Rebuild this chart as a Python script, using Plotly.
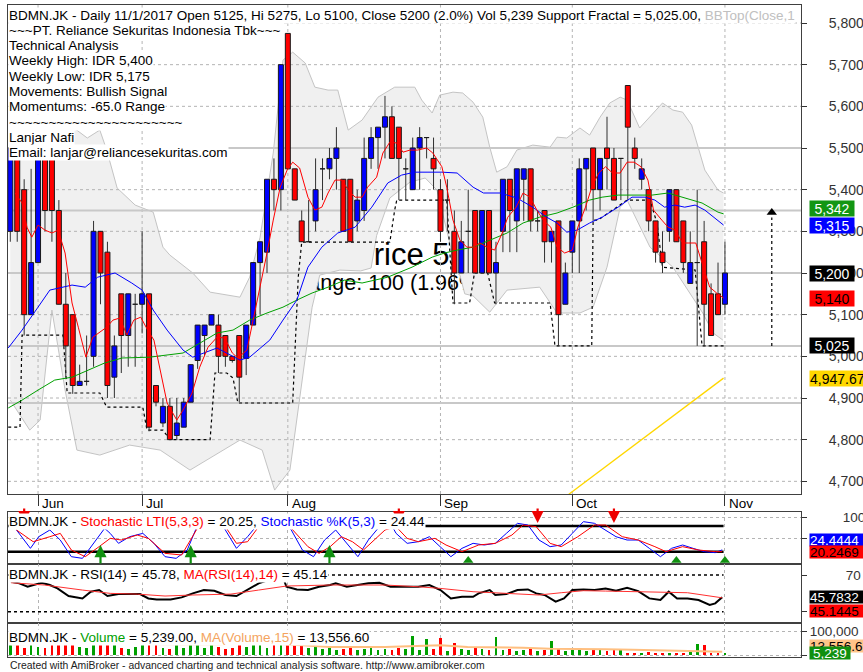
import plotly.graph_objects as go

FONT = "Liberation Sans, Arial, sans-serif"

# ---------------- data (bar 0 = 26 May 2017, bar 103 = 1 Nov 2017) ----------------
month_starts = [4, 19, 40, 62, 81, 103]
month_labels = ["Jun", "Jul", "Aug", "Sep", "Oct", "Nov"]

opens = [5300, 5500, 5400, 5100, 5225, 5500, 5475, 5350, 5125, 5100,
         4930, 4940, 5000, 5300, 5250, 4950, 5150, 5050, 5125, 5125,
         5150, 4930, 4840, 4880, 4810, 4830, 4890, 4990, 5050, 5075,
         5075, 5050, 5000, 5050, 4995, 5075, 5225, 5250, 5425, 5400,
         5775, 5450, 5325, 5275, 5325, 5450, 5450, 5475, 5425, 5425,
         5325, 5350, 5475, 5525, 5550, 5575, 5550, 5450, 5400, 5500,
         5525, 5475, 5400, 5375, 5300, 5200, 5300, 5350, 5200, 5350,
         5200, 5300, 5425, 5325, 5425, 5450, 5325, 5350, 5275, 5325,
         5125, 5250, 5325, 5450, 5500, 5400, 5500, 5475, 5475, 5650,
         5500, 5425, 5400, 5325, 5250, 5300, 5400, 5325, 5175, 5225,
         5275, 5150, 5150, 5125]
highs = [5525, 5525, 5425, 5450, 5525, 5525, 5500, 5375, 5200, 5100,
         4980, 5050, 5325, 5300, 5275, 5050, 5150, 5150, 5150, 5300,
         5150, 4930, 4900, 4900, 4900, 4900, 4980, 5075, 5075, 5100,
         5100, 5050, 5000, 5050, 5075, 5225, 5275, 5425, 5475, 5700,
         5775, 5450, 5350, 5375, 5475, 5475, 5500, 5550, 5425, 5425,
         5400, 5525, 5550, 5550, 5625, 5600, 5550, 5475, 5525, 5550,
         5525, 5525, 5425, 5425, 5350, 5325, 5400, 5350, 5350, 5350,
         5275, 5425, 5425, 5450, 5450, 5450, 5350, 5350, 5300, 5325,
         5225, 5325, 5475, 5475, 5500, 5475, 5575, 5500, 5475, 5650,
         5525, 5475, 5400, 5325, 5300, 5400, 5400, 5325, 5300, 5400,
         5325, 5175, 5225, 5275]
lows = [5275, 5275, 5050, 5100, 5225, 5300, 5275, 5125, 4950, 4910,
        4930, 4930, 4975, 5125, 4900, 4900, 4960, 4975, 4975, 5055,
        4820, 4880, 4830, 4800, 4800, 4830, 4890, 4970, 5000, 5075,
        4960, 4975, 4985, 4890, 4955, 5075, 5100, 5200, 5350, 5350,
        5450, 5375, 5275, 5275, 5300, 5375, 5425, 5400, 5300, 5275,
        5300, 5325, 5450, 5450, 5475, 5475, 5375, 5375, 5400, 5400,
        5475, 5400, 5275, 5300, 5125, 5200, 5200, 5200, 5200, 5200,
        5125, 5250, 5250, 5250, 5325, 5300, 5300, 5225, 5225, 5025,
        5125, 5200, 5200, 5350, 5325, 5350, 5400, 5375, 5375, 5375,
        5450, 5400, 5300, 5225, 5200, 5275, 5275, 5200, 5175, 5025,
        5025, 5050, 5100, 5100]
closes = [5500, 5300, 5100, 5225, 5500, 5350, 5350, 5125, 5025, 4930,
          4940, 4940, 5300, 5200, 4930, 5025, 5050, 5150, 5125, 5150,
          4830, 4890, 4880, 4800, 4840, 4890, 4980, 5075, 5075, 5100,
          5000, 5000, 4990, 4950, 5075, 5225, 5275, 5425, 5400, 5700,
          5450, 5375, 5275, 5275, 5400, 5450, 5475, 5500, 5300, 5275,
          5375, 5475, 5525, 5550, 5575, 5475, 5475, 5450, 5500, 5525,
          5525, 5450, 5300, 5375, 5200, 5275, 5300, 5200, 5350, 5200,
          5225, 5425, 5350, 5450, 5450, 5325, 5325, 5275, 5300, 5100,
          5200, 5325, 5450, 5475, 5400, 5475, 5475, 5375, 5475, 5550,
          5475, 5450, 5325, 5250, 5225, 5400, 5275, 5225, 5225, 5225,
          5125, 5050, 5100, 5200]
volumes = [45000, 40000, 30000, 80000, 35000, 30000, 45000, 55000, 50000, 60000,
           35000, 30000, 80000, 55000, 65000, 40000, 30000, 25000, 35000, 75000,
           70000, 45000, 30000, 25000, 40000, 30000, 75000, 45000, 30000, 40000,
           35000, 25000, 30000, 80000, 35000, 75000, 45000, 30000, 55000, 85000,
           50000, 45000, 40000, 30000, 35000, 25000, 30000, 20000, 25000, 30000,
           20000, 25000, 30000, 20000, 25000, 20000, 30000, 25000, 80000, 20000,
           65000, 25000, 70000, 15000, 50000, 25000, 20000, 30000, 25000, 20000,
           75000, 20000, 25000, 15000, 20000, 25000, 15000, 20000, 60000, 25000,
           15000, 20000, 30000, 15000, 25000, 20000, 15000, 25000, 20000, 8000,
           10000, 8000, 12000, 8000, 10000, 6000, 8000, 10000, 15000, 45000,
           40000, 8000, 6000, 5239]

# indicator lines (bar position, value)
ma_fast_idx = [0.7, 1.7, 2.4, 3.1, 4.0, 5.0, 6.0, 6.9, 7.9, 8.9, 9.8, 10.9, 11.9, 12.9, 13.9,
               14.8, 15.8, 16.8, 17.8, 18.8, 19.8, 20.7, 21.1, 22.6, 24.0, 24.9, 26.2, 27.3,
               28.5, 29.8, 30.9, 32.0, 32.8, 34.1, 35.0, 36.0, 37.0, 37.9, 38.9, 39.9, 40.7,
               41.7, 42.9, 43.9, 44.9, 45.8, 46.8, 47.8, 48.7, 49.7, 50.7, 51.5, 52.8, 53.7,
               54.7, 55.7, 56.6, 57.6, 58.7, 60.0, 60.9, 62.2, 62.9, 63.8, 64.8, 65.8, 66.7,
               67.7, 68.7, 69.8, 70.9, 71.7, 72.9, 73.9, 74.9, 75.9, 76.8, 77.9, 78.8, 79.9,
               81.0, 81.8, 82.9, 83.8, 84.8, 85.8, 86.8, 87.9, 88.9, 89.9, 90.9, 91.9, 92.7,
               93.9, 94.8, 95.8, 96.9, 97.8, 98.8, 99.7, 100.8, 101.8, 102.8]
ma_fast = [5392, 5368, 5310, 5286, 5315, 5303, 5296, 5303, 5248, 5128, 5070, 4998, 5046, 5058,
           5070, 5087, 5092, 5051, 5087, 5094, 5063, 5039, 5008, 4888, 4847, 4871, 4912, 4974,
           5022, 5046, 5044, 5008, 4996, 5015, 5087, 5166, 5248, 5327, 5406, 5447, 5466, 5452,
           5382, 5351, 5358, 5392, 5423, 5423, 5399, 5382, 5382, 5406, 5430, 5488, 5514, 5512,
           5490, 5495, 5495, 5500, 5488, 5455, 5406, 5327, 5279, 5262, 5262, 5272, 5262, 5255,
           5296, 5334, 5358, 5392, 5382, 5351, 5327, 5310, 5262, 5248, 5255, 5310, 5358, 5406,
           5440, 5455, 5440, 5440, 5466, 5466, 5455, 5423, 5351, 5327, 5310, 5303, 5272, 5272,
           5272, 5224, 5166, 5152, 5140]
ma_mid_idx = [-0.3, 1.7, 4.0, 5.7, 8.9, 10.8, 12.6, 15.1, 17.5, 19.0, 20.6, 22.6, 24.9, 26.3,
              29.8, 31.2, 33.1, 34.5, 37.4, 39.3, 41.3, 42.9, 44.9, 47.2, 49.7, 52.1, 54.4,
              56.4, 58.3, 60.2, 62.2, 64.4, 66.7, 68.2, 70.6, 73.0, 75.3, 77.3, 78.8, 80.2,
              81.7, 83.5, 85.3, 87.6, 89.6, 91.5, 92.9, 94.3, 95.8, 97.2, 98.7, 100.1, 102.0, 102.8]
ma_mid = [5020, 5063, 5118, 5159, 5171, 5166, 5190, 5200, 5176, 5159, 5111, 5063, 5015, 4998,
          5020, 5008, 4991, 4998, 5039, 5087, 5135, 5214, 5262, 5296, 5310, 5358, 5416, 5435,
          5442, 5442, 5442, 5440, 5406, 5392, 5392, 5380, 5358, 5334, 5320, 5298, 5303, 5320,
          5334, 5358, 5382, 5382, 5375, 5358, 5363, 5358, 5363, 5351, 5327, 5315]
ma_slow_idx = [-0.3, 1.7, 4.0, 6.4, 8.9, 11.2, 13.6, 16.1, 20.1, 24.9, 27.3, 29.8, 32.1, 34.5,
               37.0, 39.3, 41.3, 43.5, 45.8, 48.2, 50.7, 54.4, 57.9, 60.8, 62.6, 64.4, 66.7,
               69.1, 71.6, 73.9, 76.3, 78.8, 81.1, 83.5, 85.3, 87.6, 90.0, 92.5, 94.8, 97.2,
               99.7, 102.0, 102.8]
ma_slow = [4876, 4895, 4919, 4943, 4950, 4967, 4984, 4996, 4998, 5008, 5032, 5056, 5063, 5087,
           5104, 5118, 5135, 5152, 5166, 5183, 5176, 5190, 5214, 5238, 5248, 5255, 5262, 5279,
           5296, 5320, 5334, 5344, 5358, 5375, 5382, 5387, 5387, 5387, 5392, 5380, 5368, 5346, 5342]
bb_top_idx = [0.0, 2.8, 5.7, 8.6, 11.1, 12.9, 13.9, 15.4, 18.0, 20.6, 22.0, 23.0, 26.3, 28.8,
              33.1, 34.5, 36.0, 37.9, 39.3, 40.7, 42.5, 43.9, 45.8, 47.2, 48.7, 50.7, 53.0,
              55.4, 58.3, 59.3, 60.8, 61.9, 63.8, 65.2, 66.7, 68.1, 69.1, 70.1, 71.6, 73.0,
              75.3, 77.8, 78.8, 80.2, 82.1, 83.5, 85.0, 86.4, 87.9, 88.9, 90.7, 92.6, 94.0,
              95.5, 96.9, 98.2, 100.1, 102.0, 102.8]
bb_top = [5555, 5567, 5572, 5555, 5524, 5543, 5495, 5404, 5363, 5346, 5262, 5243, 5200, 5154,
          5142, 5190, 5286, 5488, 5711, 5730, 5704, 5646, 5639, 5639, 5543, 5567, 5622, 5646,
          5646, 5615, 5584, 5627, 5634, 5632, 5610, 5574, 5502, 5442, 5455, 5495, 5507, 5502,
          5526, 5524, 5548, 5531, 5574, 5608, 5622, 5615, 5548, 5584, 5608, 5591, 5586, 5555,
          5447, 5399, 5392]
bb_bot_idx = [0.0, 2.8, 4.3, 6.0, 7.9, 9.6, 12.9, 17.2, 21.6, 25.9, 29.5, 33.1, 36.3, 38.1,
              40.3, 41.7, 43.5, 44.6, 47.5, 50.5, 52.0, 52.8, 54.7, 57.6, 59.8, 61.5, 63.4,
              64.0, 64.8, 65.5, 66.7, 69.1, 71.6, 76.3, 78.8, 82.1, 84.0, 86.0, 87.9, 88.9,
              90.3, 92.2, 95.5, 97.9, 99.8, 101.3, 102.7]
bb_bot = [4895, 4823, 4847, 5111, 4919, 4775, 4763, 4787, 4775, 4727, 4763, 4799, 4775, 4679,
          4727, 4895, 5118, 5195, 5207, 5205, 5212, 5290, 5380, 5418, 5428, 5399, 5268,
          5205, 5195, 5150, 5145, 5106, 5159, 5166, 5104, 5104, 5118, 5214, 5358, 5375,
          5327, 5262, 5214, 5152, 5104, 5056, 5039]
support_idx = [-0.3, 1.4, 1.7, 7.6, 8.2, 12.9, 13.9, 19.1, 19.7, 22.0, 23.0, 28.8, 29.5, 31.2,
               32.1, 32.8, 40.7, 41.5, 42.0, 54.7, 55.4, 55.7, 62.9, 63.8, 66.2, 66.9, 68.8,
               69.8, 77.8, 78.5, 83.8, 84.0, 84.7, 87.4, 88.9, 92.2, 93.2, 94.0, 98.7, 99.7, 102.8]
support = [4830, 4830, 5051, 5051, 4912, 4912, 4878, 4878, 4823, 4823, 4800, 4800, 4960, 4960,
           4948, 4888, 4888, 5190, 5274, 5274, 5351, 5375, 5375, 5128, 5128, 5200, 5200, 5128,
           5128, 5025, 5025, 5327, 5327, 5358, 5375, 5375, 5320, 5214, 5207, 5025, 5025]
trend_idx = [80.5, 102.8]
trend = [4669, 4947.67]
level_lines = [5500, 5350, 5200, 5025, 4888]
target_idx = 109.75
target_from, target_to = 5025, 5345

stoch_k_idx = [0.9, 2.9, 4.1, 5.7, 7.2, 8.8, 10.4, 12.4, 13.6, 14.4, 15.6, 17.2, 19.1, 20.7,
               22.3, 23.9, 25.5, 27.1, 27.9, 30.2, 31.0, 32.6, 34.2, 35.8, 39.8, 40.5, 42.1,
               43.7, 45.3, 46.9, 48.5, 50.1, 51.6, 53.2, 54.8, 55.6, 57.2, 58.8, 60.4, 62.0,
               63.5, 65.1, 66.7, 68.3, 69.9, 71.5, 73.1, 74.6, 76.2, 77.8, 79.4, 81.0, 82.6,
               84.2, 85.8, 87.3, 88.9, 90.5, 92.1, 93.7, 95.3, 96.9, 98.4, 100.0, 101.6, 102.6]
stoch_k = [70.8, 28.0, 55.2, 70.8, 47.4, 8.5, 4.6, 47.4, 74.7, 63.0, 39.7, 55.2, 63.0, 39.7,
           8.5, 4.6, 24.1, 86.4, 90.3, 90.3, 70.8, 28.0, 55.2, 86.4, 86.4, 70.8, 24.1, 8.5,
           47.4, 70.8, 39.7, 8.5, 47.4, 78.6, 86.4, 63.0, 39.7, 43.5, 55.2, 31.9, 8.5, 28.0,
           39.7, 35.8, 39.7, 63.0, 86.4, 82.5, 47.4, 31.9, 35.8, 63.0, 90.3, 86.4, 70.8, 55.2,
           47.4, 47.4, 28.0, 8.5, 28.0, 35.8, 28.0, 20.2, 17.9, 24.44]
stoch_d_idx = [0.9, 3.3, 5.7, 7.2, 8.8, 10.8, 12.8, 14.4, 16.0, 18.3, 19.9, 22.3, 24.7, 27.1,
               31.0, 32.6, 34.2, 35.8, 40.5, 42.9, 44.5, 46.1, 47.7, 49.3, 50.9, 54.0, 55.6,
               57.2, 58.8, 61.2, 62.8, 65.1, 67.5, 69.9, 72.3, 73.9, 75.8, 77.8, 79.4, 81.8,
               84.2, 85.8, 88.2, 90.5, 92.9, 94.5, 96.9, 99.2, 101.6, 102.6]
stoch_d = [70.8, 43.5, 55.2, 63.0, 24.1, 8.5, 31.9, 51.3, 47.4, 59.1, 51.3, 16.3, 12.4, 78.6,
           78.6, 39.7, 43.5, 78.6, 74.7, 31.9, 16.3, 31.9, 55.2, 43.5, 24.1, 70.8, 78.6, 51.3,
           43.5, 51.3, 35.8, 20.2, 35.8, 39.7, 59.1, 82.5, 78.6, 39.7, 31.9, 55.2, 82.5, 82.5,
           55.2, 47.4, 31.9, 20.2, 31.9, 24.1, 20.2, 20.25]
buy_arrows = [13, 26, 46]
buy_marks = [66, 96, 103]
sell_arrows = [2, 56, 76, 87]

rsi_idx = [0.1, 1.3, 2.5, 3.3, 4.5, 5.7, 6.8, 8.4, 10.4, 11.6, 12.8, 14.0, 15.6, 17.2, 18.7,
           19.9, 21.1, 23.1, 24.7, 26.3, 27.9, 29.4, 31.0, 32.6, 34.2, 35.8, 37.8, 38.9, 39.8,
           41.3, 42.9, 44.5, 46.1, 46.9, 48.5, 50.1, 51.6, 53.2, 54.8, 56.4, 58.8, 60.4, 62.0,
           63.5, 65.1, 66.7, 67.5, 69.1, 69.9, 71.5, 73.1, 74.6, 75.8, 77.0, 78.6, 79.8, 81.0,
           82.6, 84.2, 85.8, 87.3, 88.9, 90.5, 92.1, 93.7, 94.9, 96.1, 97.6, 99.2, 100.8,
           101.6, 102.6]
rsi = [62.7, 60.9, 57.2, 59.1, 61.6, 59.1, 55.4, 47.1, 44.5, 51.8, 53.6, 47.1, 49.2, 49.2, 49.2,
       44.5, 43.4, 43.4, 45.6, 50.0, 53.6, 52.9, 48.2, 47.1, 53.6, 60.9, 66.0, 76.0, 57.2,
       54.3, 53.6, 57.2, 59.1, 60.9, 57.2, 59.1, 60.9, 61.6, 57.2, 57.2, 57.2, 59.1, 53.6,
       44.5, 46.3, 46.3, 50.0, 53.6, 48.2, 49.2, 53.6, 54.3, 50.0, 48.2, 40.9, 44.5, 53.6,
       54.3, 53.6, 55.4, 52.9, 56.2, 52.5, 44.5, 42.7, 51.8, 44.5, 44.5, 42.7, 37.3, 39.1, 45.78]
rsi_ma_idx = [0.1, 4.9, 10.4, 14.4, 18.3, 22.3, 26.3, 31.8, 35.8, 39.8, 46.1, 50.1, 54.0,
              58.8, 62.0, 66.7, 71.5, 76.2, 79.4, 82.6, 85.8, 89.7, 93.7, 97.6, 102.6]
rsi_ma = [61.6, 59.1, 53.6, 50.0, 49.2, 47.1, 48.2, 49.2, 53.6, 58.0, 59.1, 59.1, 59.1, 57.2,
          55.4, 51.8, 50.0, 48.2, 50.7, 52.9, 52.5, 51.8, 51.8, 50.7, 45.14]

vol_ma_idx = [0.1, 6.4, 14.4, 22.3, 30.2, 34.2, 38.2, 42.1, 46.1, 54.0, 58.8, 62.0, 65.9,
              69.9, 73.9, 77.8, 81.8, 85.8, 89.7, 93.7, 97.6, 101.6, 102.6]
vol_ma = [44400, 47200, 50000, 44400, 44400, 50000, 47200, 40300, 33300, 33300, 36000, 40300,
          33300, 33300, 30600, 26400, 26400, 23600, 22200, 20000, 17000, 15000, 13556.6]

# ---------------- geometry ----------------
W, H = 863, 672
ML, MR, MT, MB = 8, 62, 5, 15
X_MIN, X_MAX = -0.33, 113.96
P_MIN, P_MAX = 4669.6, 5843.2


def py(y_px):
    return (H - MB - y_px) / (H - MT - MB)


fig = go.Figure()
px_ax = dict(xaxis="x", yaxis="y")

# big background caption (only visible where the band fill leaves it uncovered)
fig.add_trace(go.Scatter(x=[49.4], y=[5238], mode="text", text=["Price 5200"],
                         textposition="middle right", textfont=dict(size=31, color="black", family=FONT),
                         **px_ax))
fig.add_trace(go.Scatter(x=[39.0], y=[5171], mode="text", text=["Change: 100 (1.96%)"],
                         textposition="middle right", textfont=dict(size=21.5, color="black", family=FONT),
                         **px_ax))

# Bollinger band
fig.add_trace(go.Scatter(x=bb_bot_idx, y=bb_bot, mode="lines", line=dict(color="#c4c4c4", width=1), **px_ax))
fig.add_trace(go.Scatter(x=bb_top_idx, y=bb_top, mode="lines", fill="tonexty", fillcolor="#f0f0f0",
                         line=dict(color="#c4c4c4", width=1), **px_ax))

# dotted grid over the band
gx, gy = [], []
for p in range(4700, 5801, 100):
    gx += [X_MIN, X_MAX, None]
    gy += [p, p, None]
for m in month_starts:
    gx += [m, m, None]
    gy += [P_MIN, P_MAX, None]
fig.add_trace(go.Scatter(x=gx, y=gy, mode="lines", line=dict(color="#b4b4b4", width=1, dash="dot"), **px_ax))

lx, ly = [], []
for lv in level_lines:
    lx += [X_MIN, X_MAX, None]
    ly += [lv, lv, None]
fig.add_trace(go.Scatter(x=lx, y=ly, mode="lines", line=dict(color="#c8c8c8", width=2), **px_ax))

fig.add_trace(go.Scatter(x=trend_idx, y=trend, mode="lines", line=dict(color="#ffd700", width=1.3), **px_ax))
fig.add_trace(go.Scatter(x=support_idx, y=support, mode="lines",
                         line=dict(color="black", width=1.2, dash="3px,3px"), **px_ax))

# candles
HALF = 0.36
wick_x, wick_y, up_x, up_y, dn_x, dn_y = [], [], [], [], [], []
for i, (o, h, l, c) in enumerate(zip(opens, highs, lows, closes)):
    wick_x += [i, i, None]
    wick_y += [l, h, None]
    lo_, hi_ = min(o, c), max(o, c)
    bx = [i - HALF, i + HALF, i + HALF, i - HALF, i - HALF, None]
    by = [lo_, lo_, hi_, hi_, lo_, None]
    if c >= o:
        up_x += bx
        up_y += by
    else:
        dn_x += bx
        dn_y += by
fig.add_trace(go.Scatter(x=wick_x, y=wick_y, mode="lines", line=dict(color="#303030", width=1), **px_ax))
fig.add_trace(go.Scatter(x=up_x, y=up_y, mode="lines", fill="toself", fillcolor="#0000ff",
                         line=dict(color="#1a1a1a", width=1), **px_ax))
fig.add_trace(go.Scatter(x=dn_x, y=dn_y, mode="lines", fill="toself", fillcolor="#ff0000",
                         line=dict(color="#1a1a1a", width=1), **px_ax))

fig.add_trace(go.Scatter(x=ma_slow_idx, y=ma_slow, mode="lines", line=dict(color="#00a000", width=1), **px_ax))
fig.add_trace(go.Scatter(x=ma_mid_idx, y=ma_mid, mode="lines", line=dict(color="#0000ff", width=1), **px_ax))
fig.add_trace(go.Scatter(x=ma_fast_idx, y=ma_fast, mode="lines", line=dict(color="#ff0000", width=1), **px_ax))

# projected target arrow
fig.add_trace(go.Scatter(x=[target_idx, target_idx], y=[target_from, target_to - 12], mode="lines",
                         line=dict(color="black", width=1.2, dash="3px,3px"), **px_ax))
fig.add_trace(go.Scatter(x=[target_idx], y=[target_to], mode="markers",
                         marker=dict(symbol="triangle-up", size=9, color="black"), **px_ax))
# tag pointer for last close
fig.add_trace(go.Scatter(x=[X_MAX + 0.6], y=[closes[-1]], mode="markers", cliponaxis=False,
                         marker=dict(symbol="triangle-left", size=11, color="black"), **px_ax))

# ---------------- stochastic ----------------
st = dict(xaxis="x2", yaxis="y2")
fig.add_trace(go.Scatter(x=[X_MIN, 102.8, None, X_MIN, 102.8], y=[80, 80, None, 20, 20], mode="lines",
                         line=dict(color="black", width=2.5), **st))
fig.add_trace(go.Scatter(x=stoch_k_idx, y=stoch_k, mode="lines", line=dict(color="#0000ff", width=1), **st))
fig.add_trace(go.Scatter(x=stoch_d_idx, y=stoch_d, mode="lines", line=dict(color="#ff0000", width=1), **st))
fig.add_trace(go.Scatter(x=buy_marks, y=[-0.5] * len(buy_marks), mode="markers", cliponaxis=False,
                         marker=dict(symbol="triangle-up", size=9, color="#109010"), **st))

# ---------------- RSI ----------------
rs = dict(xaxis="x3", yaxis="y3")
fig.add_trace(go.Scatter(x=[X_MIN, 102.8, None, X_MIN, 102.8], y=[70, 70, None, 30, 30], mode="lines",
                         line=dict(color="black", width=1.5, dash="dot"), **rs))
fig.add_trace(go.Scatter(x=rsi_idx, y=rsi, mode="lines", line=dict(color="black", width=2), **rs))
fig.add_trace(go.Scatter(x=rsi_ma_idx, y=rsi_ma, mode="lines", line=dict(color="#ff3030", width=1), **rs))
fig.add_trace(go.Scatter(x=[X_MAX + 0.6], y=[rsi[-1]], mode="markers", cliponaxis=False,
                         marker=dict(symbol="triangle-left", size=10, color="black"), **rs))

# ---------------- volume ----------------
vo = dict(xaxis="x4", yaxis="y4")
vol_colors = ["#00a000" if c >= o else "#ff0000" for o, c in zip(opens, closes)]
fig.add_trace(go.Bar(x=list(range(len(volumes))), y=volumes, width=0.4, marker_color=vol_colors,
                     marker_line_width=0, **vo))
fig.add_trace(go.Scatter(x=vol_ma_idx, y=vol_ma, mode="lines", line=dict(color="#ffbf80", width=2), **vo))

# ---------------- axes ----------------
frame = dict(showline=True, mirror=True, linecolor="#404040", linewidth=1, zeroline=False,
             automargin=False)
xcommon = dict(range=[X_MIN, X_MAX], tickvals=month_starts, showticklabels=False, **frame)
tickfont = dict(family=FONT, size=14, color="#333")
subfont = dict(family=FONT, size=13.5, color="#333")

fig.update_layout(
    width=W, height=H, margin=dict(l=ML, r=MR, t=MT, b=MB, autoexpand=False),
    paper_bgcolor="white", plot_bgcolor="white", showlegend=False, bargap=0,
    xaxis=dict(domain=[0, 1], anchor="y", ticks="outside", ticklen=11, tickcolor="#333",
               showgrid=False, **xcommon),
    yaxis=dict(domain=[py(494), py(5)], range=[P_MIN, P_MAX], side="right", anchor="x",
               tick0=4700, dtick=100, tickformat=",", ticks="outside", ticklen=5, tickcolor="#333",
               tickfont=tickfont, ticklabelstandoff=19, showgrid=False, **frame),
    xaxis2=dict(domain=[0, 1], anchor="y2", ticks="", showgrid=True, gridcolor="#b4b4b4",
                griddash="dot", **xcommon),
    yaxis2=dict(domain=[py(564), py(512)], range=[-8.6, 112.9], side="right", anchor="x2",
                tickvals=[50, 100], ticktext=["", "100"], ticks="outside", ticklen=5, tickcolor="#333",
                tickfont=subfont, ticklabelstandoff=33,
                showgrid=True, gridcolor="#b4b4b4", griddash="dot", **frame),
    xaxis3=dict(domain=[0, 1], anchor="y3", ticks="", showgrid=True, gridcolor="#b4b4b4",
                griddash="dot", **xcommon),
    yaxis3=dict(domain=[py(623), py(564)], range=[17.7, 82.0], side="right", anchor="x3",
                tickvals=[30, 70], ticktext=["", "70"], ticks="outside", ticklen=5, tickcolor="#333",
                tickfont=subfont, ticklabelstandoff=36, showgrid=False, **frame),
    xaxis4=dict(domain=[0, 1], anchor="y4", ticks="", showgrid=True, gridcolor="#b4b4b4",
                griddash="dot", **xcommon),
    yaxis4=dict(domain=[0, py(623)], range=[-8333, 133333], side="right", anchor="x4",
                tickvals=[0, 100000], ticktext=["", "100,000"], ticks="outside", ticklen=5,
                tickcolor="#333", tickfont=subfont, ticklabelstandoff=0,
                showgrid=True, gridcolor="#b4b4b4", griddash="dot", **frame),
)

ann = []

# stochastic signal arrows (drawn first so the panel title box covers the hidden ones)
for b in buy_arrows:
    ann.append(dict(x=b, y=35.7, xref="x2", yref="y2", text="", showarrow=True, ax=0, ay=20,
                    arrowhead=2, arrowsize=1.1, arrowwidth=2.2, arrowcolor="#109010", standoff=0))
for s in sell_arrows:
    ann.append(dict(x=s, y=87.0, xref="x2", yref="y2", text="", showarrow=True, ax=0, ay=-16,
                    arrowhead=2, arrowsize=1.1, arrowwidth=2.2, arrowcolor="#ee0000", standoff=0))

# top-left text block
header = ("BDMN.JK - Daily 11/1/2017 Open 5125, Hi 5275, Lo 5100, Close 5200 (2.0%) Vol 5,239 "
          "Support Fractal = 5,025.00, <span style='color:#c0c0c0'>BBTop(Close,1</span>")
info_lines = [header, "~~~PT. Reliance Sekuritas Indonesia Tbk~~~", "Technical Analysis",
              "Weekly High: IDR 5,400", "Weekly Low: IDR 5,175", "Movements: Bullish Signal",
              "Momentums: -65.0 Range", "~" * 22, "Lanjar Nafi",
              "Email: lanjar@reliancesekuritas.com"]
for k, line in enumerate(info_lines):
    ann.append(dict(x=0, y=py(15 + k * 15.3), xref="paper", yref="paper", xanchor="left",
                    yanchor="middle", text=line, showarrow=False, bgcolor="white", borderpad=0,
                    font=dict(family=FONT, size=13.5, color="black")))

for m, lab in zip(month_starts, month_labels):
    ann.append(dict(x=m, y=py(503), xref="x", yref="paper", xanchor="left", yanchor="middle",
                    xshift=2, text=lab, showarrow=False, font=dict(family=FONT, size=13.5, color="black")))

titles = [
    (521, "BDMN.JK - <span style='color:#ff0000'>Stochastic LTI(5,3,3)</span> = 20.25, "
          "<span style='color:#0000ff'>Stochastic %K(5,3)</span> = 24.44"),
    (574, "BDMN.JK - RSI(14) = 45.78, <span style='color:#ff0000'>MA(RSI(14),14)</span> = 45.14"),
    (637, "BDMN.JK - <span style='color:#00a000'>Volume</span> = 5,239.00, "
          "<span style='color:#f4a460'>MA(Volume,15)</span> = 13,556.60"),
]
for ypx, t in titles:
    ann.append(dict(x=0, y=py(ypx), xref="paper", yref="paper", xanchor="left", yanchor="middle",
                    text=t, showarrow=False, bgcolor="white", borderpad=0,
                    font=dict(family=FONT, size=13.5, color="black")))

ann.append(dict(x=0, y=py(665), xref="paper", yref="paper", xanchor="left", yanchor="middle",
                text="Created with AmiBroker - advanced charting and technical analysis software. "
                     "http://www.amibroker.com",
                showarrow=False, font=dict(family=FONT, size=10.4, color="#222")))

# value tags on the right
tags = [
    ("y", 5342, "5,342", "#139613", "white", 5.5, 44, 15),
    ("y", 5315, "5,315", "#0000ff", "white", 0, 44, 15),
    ("y", closes[-1], "5,200", "black", "white", 0, 44, 15),
    ("y", 5140, "5,140", "#ff0000", "black", 0, 44, 15),
    ("y", 5025, "5,025", "black", "white", 0, 44, 15),
    ("y", 4947.67, "4,947.67", "#ffd700", "black", 0, 60, 15),
    ("y2", 24.4444, "24.4444", "#0000ff", "white", 10, 56, 12),
    ("y2", 20.2469, "20.2469", "#ff0000", "black", 0, 56, 12),
    ("y3", 45.7832, "45.7832", "black", "white", 0, 56, 12),
    ("y3", 45.1445, "45.1445", "#ff0000", "black", -13, 56, 12),
    ("y4", 13556.6, "13,556.6", "#ffc488", "black", 6, 56, 12),
    ("y4", 5239, "5,239", "#109010", "white", 1, 40, 12),
]
for yref, val, txt, bg, fg, ys, wd, ht in tags:
    ann.append(dict(x=1, y=val, xref="paper", yref=yref, xanchor="left", yanchor="middle",
                    xshift=8, yshift=ys, text=txt, showarrow=False, bgcolor=bg, borderpad=0,
                    width=wd, height=ht, align="left" if wd > 44 else "center",
                    font=dict(family=FONT, size=14 if yref == "y" else 13.5, color=fg)))

fig.update_layout(annotations=ann)
# the page body has a default 8px margin; remove it so the figure sits at the window origin
fig.write_html("out.html", config={"displayModeBar": False},
               post_script="document.body.style.margin='0px';")
